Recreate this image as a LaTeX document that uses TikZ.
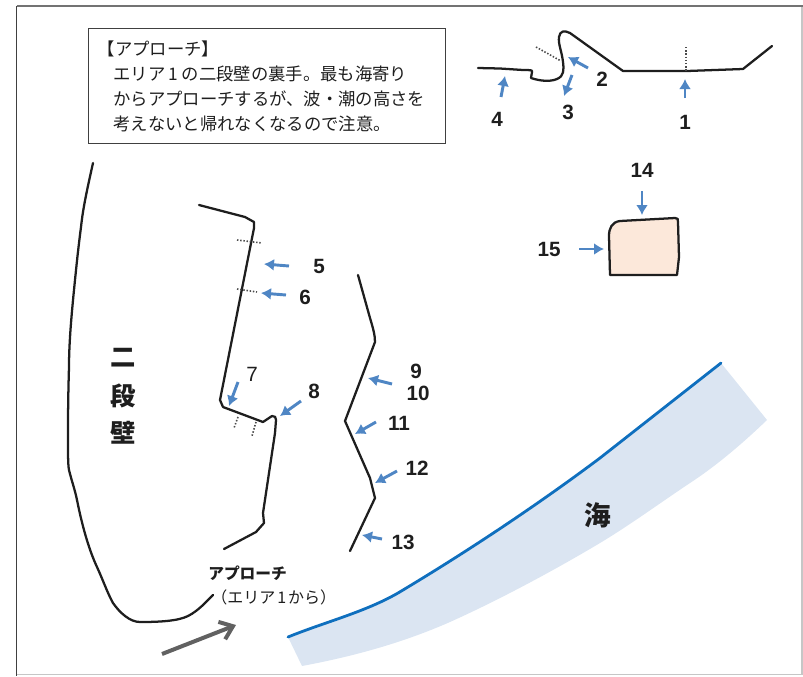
\documentclass[tikz,border=0pt]{standalone}
\usepackage{fontspec}
\setmainfont{Liberation Sans}
\newfontfamily\jpfont{Noto Sans CJK JP}
\usetikzlibrary{arrows.meta}
\definecolor{ptblue}{HTML}{4F86C4}
\definecolor{seafill}{HTML}{DBE5F2}
\definecolor{sealine}{HTML}{0F6FBE}
\definecolor{rockfill}{HTML}{FCE8DA}
\definecolor{ink}{HTML}{1E1E1E}
\tikzset{
  wall/.style={draw=ink,line width=1.7pt,line join=round,line cap=round},
  dots/.style={draw=ink!80,line width=1.2pt,dash pattern=on 1.1pt off 1.3pt},
  pt/.style={draw=ptblue,line width=2.2pt,-{Latex[length=7.5pt,width=9pt]}},
  num/.style={font=\fontsize{15.5}{18}\selectfont\bfseries,text=ink,inner sep=0pt},
  numlight/.style={font=\fontsize{15.5}{18}\selectfont,text=ink,inner sep=0pt},
  jp/.style={font=\jpfont\fontsize{12}{18}\selectfont,text=ink,inner sep=0pt,anchor=west},
  big/.style={font=\jpfont\fontsize{20}{24}\selectfont\bfseries,text=ink,inner sep=0pt},
}
\begin{document}
\begin{tikzpicture}[x=0.75pt,y=-0.75pt]
\useasboundingbox (0,0) rectangle (803,676);
% page frame
\draw[draw=gray!45,line width=0.9pt] (802,6) -- (802,674.5) -- (16.5,674.5);
\draw[draw=gray!90!black,line width=1.4pt] (16.5,6) -- (803,6);
\draw[draw=ink!85,line width=1.2pt] (16.5,6) -- (16.5,676);
% text box
\node[draw=ink!85,line width=1.1pt,anchor=north west,minimum height=86.25pt,text width=247.75pt,inner xsep=10pt,inner ysep=0pt,align=left,
  font=\jpfont\fontsize{13}{18.75}\selectfont,text=ink] (note) at (88,28)
  {\hspace*{-3.2pt}【アプローチ】\\
   \hspace*{8.5pt}エリア\hspace{2.5pt}1\hspace{2.5pt}の二段壁の裏手。最も海寄り\\
   \hspace*{8.5pt}からアプローチするが、波・潮の高さを\\
   \hspace*{8.5pt}考えないと帰れなくなるので注意。};
% top shoreline
\draw[wall] (478,68) -- (500,68.5) -- (523,70) .. controls (530,70) and (533,70) .. (532,72) -- (531,78)
  .. controls (540,81) and (550,82) .. (557,79) .. controls (564,76) and (564,70) .. (563,62)
  .. controls (562,52) and (558,44) .. (559,37) .. controls (560,31) and (564,30) .. (570,33)
  -- (623,71) -- (687,71) -- (743,69) -- (772,46);
\draw[dots] (536,47) -- (561,61);
\draw[dots] (686,47) -- (686,71);
\draw[pt] (685,98) -- (685,79);
\draw[pt] (588,68) -- (568,57);
\draw[pt] (572,75) -- (564,96);
\draw[pt] (501,97) -- (505,76);
\node[num] (n1) at (685,122) {1};
\node[num] (n2) at (602,79) {2};
\node[num] (n3) at (568,112) {3};
\node[num] (n4) at (497,119) {4};
% rock
\draw[wall,fill=rockfill] (610,275) -- (609,236) .. controls (609,228) and (612,222) .. (620,221)
  -- (675,218) .. controls (678,218) and (678,219) .. (678,222) -- (679,257) -- (677,275) -- cycle;
\draw[pt] (642,191) -- (642,215);
\draw[pt] (579,249) -- (604,249);
\node[num] (n14) at (642,170) {14};
\node[num] (n15) at (549,249) {15};
% middle wall
\draw[wall] (199,205) -- (245,217) -- (254,222) -- (254,228) -- (220,400) -- (223,407) -- (263,422) -- (272,416)
  .. controls (275,416) and (276,417) .. (276,420) -- (275,433) -- (263,513) -- (264,523) -- (256,532) -- (224,549);
\draw[dots] (237,240) -- (262,243);
\draw[dots] (237,289) -- (257,292);
\draw[dots] (238,417) -- (234,428);
\draw[dots] (256,422) -- (252,436);
\draw[pt] (289,266) -- (264,264);
\draw[pt] (286,295) -- (261,293);
\draw[pt] (238,382) -- (229,406);
\draw[pt] (301,401) -- (280,416);
\node[num] (n5) at (319,266) {5};
\node[num] (n6) at (305,297) {6};
\node[numlight] (n7) at (252,374) {7};
\node[num] (n8) at (314,391) {8};
% right wall
\draw[wall] (358,275) -- (370,318) .. controls (373,328) and (375,335) .. (375,342) -- (345,421) -- (370,478) -- (375,498) -- (350,551);
\draw[pt] (392,384) -- (368,378);
\draw[pt] (376,422) -- (355,434);
\draw[pt] (397,471) -- (375,483);
\draw[pt] (382,539) -- (362,535);
\node[num] (n9) at (416,371) {9};
\node[num] (n10) at (418,393) {10};
\node[num] (n11) at (399,423) {11};
\node[num] (n12) at (417,468) {12};
\node[num] (n13) at (403,542) {13};
% left wall
\draw[wall] (93,163) .. controls (87,190) and (83,208) .. (81,227) .. controls (78,250) and (76,270) .. (74,290)
  .. controls (71,320) and (69,345) .. (69,367) .. controls (68,400) and (68,420) .. (68,440)
  .. controls (68,455) and (68,465) .. (69,470) .. controls (72,482) and (75,490) .. (77,500)
  .. controls (83,530) and (90,552) .. (97,567) .. controls (103,580) and (107,592) .. (113,603)
  .. controls (120,613) and (130,622) .. (140,622) .. controls (160,622) and (178,621) .. (188,616)
  .. controls (198,611) and (206,602) .. (213,595);
% sea
\fill[seafill] (288,637) .. controls (325,622) and (365,612) .. (398,593) .. controls (470,550) and (540,503) .. (600,458) -- (721,363) -- (767,420)
  .. controls (742,444) and (716,466) .. (690,483) .. controls (660,503) and (630,525) .. (600,543)
  .. controls (570,561) and (510,595) .. (450,622) .. controls (400,644) and (350,657) .. (302,666) -- cycle;
\draw[draw=sealine,line width=2.1pt,line cap=round] (288,637) .. controls (325,622) and (365,612) .. (398,593)
  .. controls (470,550) and (540,503) .. (600,458) -- (721,363);
\node[big] (umi) at (598,515) {海};
% labels
\node[big,font=\jpfont\fontsize{19}{24}\selectfont\bfseries] (k1) at (123,358) {二};
\node[big,font=\jpfont\fontsize{19}{24}\selectfont\bfseries] (k2) at (123,396) {段};
\node[big,font=\jpfont\fontsize{19}{24}\selectfont\bfseries] (k3) at (123,433) {壁};
\node[jp,font=\jpfont\fontsize{11.8}{18}\selectfont\bfseries] (a1) at (208,573) {アプローチ};
\node[jp] (a2) at (211,597) {（エリア\hspace{1.5pt}1\hspace{1.5pt}から）};
% approach arrow
\draw[draw=ink!70,line width=3pt,-{Straight Barb[length=9pt,width=14pt,line width=3pt]}] (162,654) -- (236,625);
\end{tikzpicture}
\end{document}
